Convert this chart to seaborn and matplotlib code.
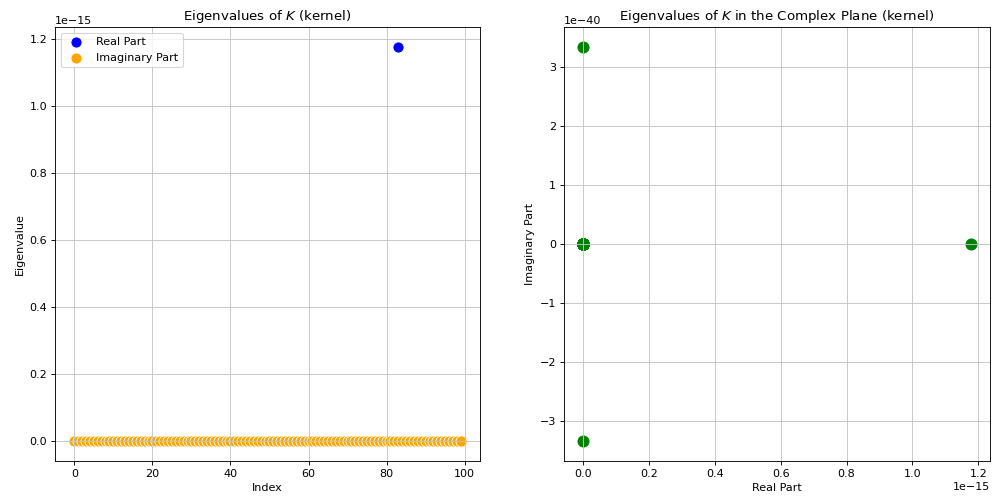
import numpy as np
import pandas as pd
import matplotlib
matplotlib.use("Agg")
import matplotlib.pyplot as plt
import seaborn as sns

# Eigenvalues of the kernel matrix K (100 of them)
n_eigs = 100
eig_index = np.arange(n_eigs)

# Real parts: all numerically zero except a single tiny positive eigenvalue
real_part = np.zeros(n_eigs)
real_part[83] = 1.177e-15

# Imaginary parts: zero except one conjugate pair
imag_part = np.zeros(n_eigs)
imag_part[1] = 3.34e-40
imag_part[2] = -3.34e-40

eigs = pd.DataFrame({"index": eig_index, "real": real_part, "imag": imag_part})

DPI = 80
fig = plt.figure(figsize=(997 / DPI, 496 / DPI), dpi=DPI)
ax1 = fig.add_axes([0.0552, 0.0706, 0.4263, 0.875])
ax2 = fig.add_axes([0.5657, 0.0706, 0.4273, 0.875])

# Left: real and imaginary parts against eigenvalue index
sns.scatterplot(data=eigs, x="index", y="real", color="blue", s=100,
                label="Real Part", ax=ax1)
sns.scatterplot(data=eigs, x="index", y="imag", color="orange", s=100,
                label="Imaginary Part", ax=ax1)
ax1.set_title(r"Eigenvalues of $K$ (kernel)")
ax1.set_xlabel("Index")
ax1.set_ylabel("Eigenvalue")
ax1.legend(loc="upper left")
ax1.grid(True, color="#c4c4c4")

# Right: eigenvalues in the complex plane
sns.scatterplot(data=eigs, x="real", y="imag", color="green", s=100,
                edgecolor="green", linewidth=0.8, ax=ax2)
ax2.set_title(r"Eigenvalues of $K$ in the Complex Plane (kernel)")
ax2.set_xlabel("Real Part")
ax2.set_ylabel("Imaginary Part")
ax2.grid(True, color="#c4c4c4")

fig.savefig("out.png", dpi=DPI)
